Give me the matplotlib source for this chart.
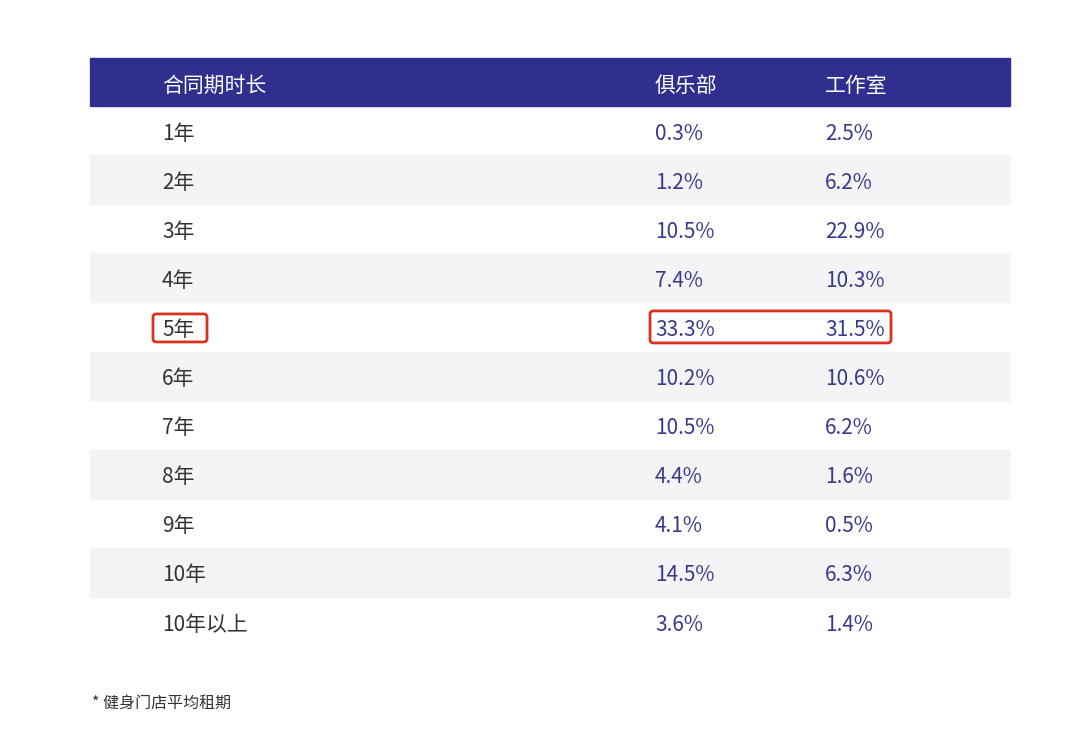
import matplotlib.pyplot as plt
from matplotlib.patches import Rectangle, FancyBboxPatch

plt.rcParams['font.family'] = ['Noto Sans CJK SC', 'DejaVu Sans']

headers = ["合同期时长", "俱乐部", "工作室"]
terms = ["1年", "2年", "3年", "4年", "5年", "6年", "7年", "8年", "9年", "10年", "10年以上"]
club = ["0.3%", "1.2%", "10.5%", "7.4%", "33.3%", "10.2%", "10.5%", "4.4%", "4.1%", "14.5%", "3.6%"]
studio = ["2.5%", "6.2%", "22.9%", "10.3%", "31.5%", "10.6%", "6.2%", "1.6%", "0.5%", "6.3%", "1.4%"]
footnote = "* 健身门店平均租期"

fig = plt.figure(figsize=(10.8, 7.44), dpi=100)
ax = fig.add_axes([0, 0, 1, 1])
ax.set_xlim(0, 1080)
ax.set_ylim(744, 0)
ax.axis('off')

navy = "#2e2f8f"
val_color = "#3a3a8c"
cols = [162, 655, 825]
top, row_h = 58, 49.1

ax.add_patch(Rectangle((90, top), 920, 48, color=navy))
for x, h in zip(cols, headers):
    ax.text(x, top + 28, h, color="white", fontsize=15, va="center")

for i, (t, c, s) in enumerate(zip(terms, club, studio)):
    y0 = top + 48 + i * row_h
    if i % 2 == 1:
        ax.add_patch(Rectangle((90, y0), 920, row_h, color="#f4f4f6"))
    yc = y0 + row_h / 2
    ax.text(cols[0], yc + 3, t, color="#333333", fontsize=15, va="center")
    ax.text(cols[1], yc + 3, c, color=val_color, fontsize=15, va="center")
    ax.text(cols[2], yc + 3, s, color=val_color, fontsize=15, va="center")
    if t == "5年":
        ax.add_patch(FancyBboxPatch((153, yc - 13), 54, 28, boxstyle="round,pad=0,rounding_size=3",
                                    fill=False, ec="#d9321f", lw=2))
        ax.add_patch(FancyBboxPatch((650, yc - 16), 241, 32, boxstyle="round,pad=0,rounding_size=3",
                                    fill=False, ec="#d9321f", lw=2))

ax.text(92, 703, footnote, color="#333333", fontsize=11.5, va="center")

fig.savefig("out.png", dpi=100)
